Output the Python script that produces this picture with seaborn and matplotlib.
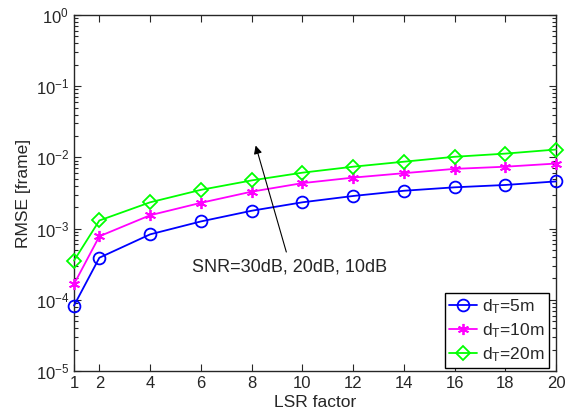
import matplotlib
matplotlib.use("Agg")
import matplotlib.pyplot as plt
import seaborn as sns
import numpy as np
import pandas as pd
from matplotlib.ticker import LogLocator, NullFormatter

lsr = [1, 2, 4, 6, 8, 10, 12, 14, 16, 18, 20]
rmse_5m = [8.3e-5, 3.9e-4, 8.3e-4, 1.26e-3, 1.78e-3, 2.34e-3, 2.87e-3, 3.4e-3, 3.8e-3, 4.1e-3, 4.6e-3]
rmse_10m = [1.66e-4, 7.8e-4, 1.54e-3, 2.3e-3, 3.3e-3, 4.35e-3, 5.2e-3, 6.0e-3, 6.9e-3, 7.4e-3, 8.2e-3]
rmse_20m = [3.55e-4, 1.30e-3, 2.34e-3, 3.5e-3, 4.75e-3, 6.1e-3, 7.4e-3, 8.7e-3, 1.02e-2, 1.13e-2, 1.29e-2]
labels = [r"d$_\mathrm{T}$=5m", r"d$_\mathrm{T}$=10m", r"d$_\mathrm{T}$=20m"]
xticks = [1, 2, 4, 6, 8, 10, 12, 14, 16, 18, 20]

sns.set_style("ticks")
plt.rcParams["font.family"] = ["Liberation Sans", "DejaVu Sans"]
plt.rcParams["mathtext.fontset"] = "custom"
plt.rcParams["mathtext.rm"] = "Liberation Sans"
plt.rcParams["mathtext.default"] = "regular"

fig = plt.figure(figsize=(5.72, 4.19), dpi=100)
ax = fig.add_axes([74/572, 1-371/419, (556-74)/572, (371-15)/419])

series = [rmse_5m, rmse_10m, rmse_20m]
colors = ["#0000ff", "#ff00ff", "#00ff00"]
markers = ["o", (6, 2, 0), "D"]
msizes = [8.5, 8, 7]
for vals, lab, c, m, ms in zip(series, labels, colors, markers, msizes):
    df = pd.DataFrame({"x": lsr, "y": vals})
    sns.lineplot(data=df, x="x", y="y", ax=ax, color=c, marker=m, markersize=ms,
                 markerfacecolor="none", markeredgecolor=c, markeredgewidth=1.3,
                 linewidth=1.3, label=lab, clip_on=False, zorder=3)

ax.set_yscale("log")
ax.set_ylim(1e-5, 1e0)
ax.set_xlim(1, 20)
ax.set_xticks(xticks)
ax.set_xticklabels([str(t) for t in xticks])
ax.yaxis.set_major_locator(LogLocator(base=10, numticks=10))
ax.yaxis.set_minor_locator(LogLocator(base=10, subs=np.arange(2, 10), numticks=10))
ax.yaxis.set_minor_formatter(NullFormatter())
ax.tick_params(which="both", direction="in", top=True, right=True, labelsize=12, width=0.8)
ax.tick_params(which="major", length=5)
ax.tick_params(which="minor", length=3)
for s in ax.spines.values():
    s.set_linewidth(1.0)
    s.set_visible(True)
ax.set_xlabel("LSR factor", fontsize=12.5, labelpad=3)
ax.set_ylabel("RMSE [frame]", fontsize=12.5, labelpad=3)

ax.annotate("", xy=(8.13, 0.016), xytext=(9.4, 4.3e-4),
            arrowprops=dict(arrowstyle="-|>", color="black", lw=0.8, mutation_scale=12))
ax.text(9.5, 2.9e-4, "SNR=30dB, 20dB, 10dB", fontsize=13, ha="center", va="center")

leg = ax.legend(loc="lower right", bbox_to_anchor=(0.986, 0.008), fontsize=12.5,
                frameon=True, fancybox=False, edgecolor="black", framealpha=1,
                borderaxespad=0, handlelength=1.6, handletextpad=0.3,
                labelspacing=0.3, borderpad=0.25)
leg.get_frame().set_linewidth(1.0)
leg.set_zorder(5)

fig.savefig("out.png", dpi=100)
